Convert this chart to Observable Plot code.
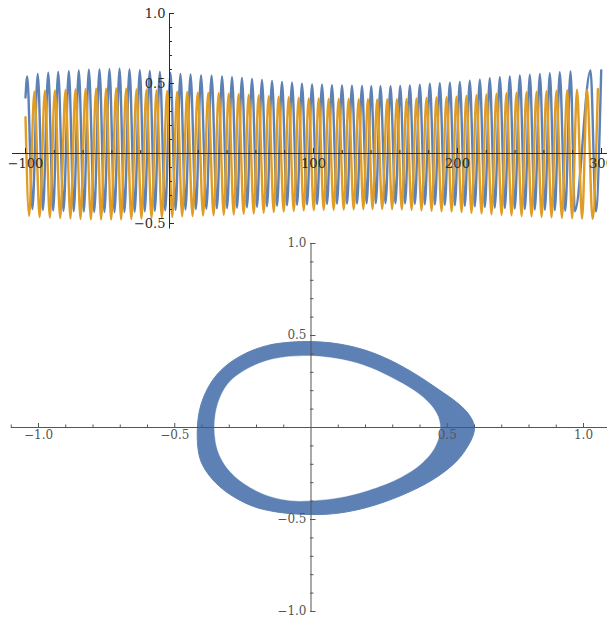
<!DOCTYPE html>
<html>
<head>
<meta charset="utf-8">
<script src="https://cdn.jsdelivr.net/npm/d3@7"></script>
<script src="https://cdn.jsdelivr.net/npm/@observablehq/plot@0.6"></script>
<style>
  html, body { margin: 0; padding: 0; background: #fff; }
  #chart { position: relative; width: 607px; height: 617px; overflow: hidden; }
  #top, #bottom { position: absolute; left: 0; }
  #top { top: 0; }
  #bottom { top: 236px; }
</style>
</head>
<body>
<div id="chart"><div id="top"></div><div id="bottom"></div></div>
<script>
// ---------- Time series: extrema of the two oscillators ----------
const blueEdgeT = [-100];
const blueEdgeV = [0.40];
const bluePeakT = [-98.8, -91.5, -84.2, -77.3, -69.9, -63.0, -56.0, -48.6, -41.7, -34.7,
  -27.8, -20.6, -13.7, -6.7, 0.7, 7.6, 14.6, 21.9, 29.2, 36.5,
  43.4, 50.3, 57.3, 64.2, 71.2, 78.1, 85.1, 92.0, 99.0, 105.9,
  112.8, 119.8, 126.7, 133.7, 140.1, 146.5, 153.5, 160.2, 166.9, 173.8,
  180.8, 187.7, 194.7, 201.6, 208.5, 215.5, 222.4, 229.4, 236.3, 243.3,
  250.2, 257.2, 264.1, 271.0, 278.5, 292.4, 299.8];
const bluePeakV = [0.550, 0.569, 0.578, 0.582, 0.588, 0.593, 0.598, 0.600, 0.602, 0.605,
  0.600, 0.595, 0.590, 0.582, 0.575, 0.569, 0.564, 0.557, 0.555, 0.550,
  0.545, 0.540, 0.533, 0.526, 0.518, 0.511, 0.505, 0.498, 0.493, 0.491,
  0.487, 0.486, 0.485, 0.482, 0.481, 0.480, 0.481, 0.483, 0.486, 0.492,
  0.498, 0.502, 0.506, 0.511, 0.520, 0.528, 0.537, 0.545, 0.550, 0.557,
  0.563, 0.569, 0.574, 0.580, 0.586, 0.593, 0.594];
const blueTroughT = [-95.2, -87.9, -80.8, -73.6, -66.5, -59.5, -52.3, -45.2, -38.2, -31.3,
  -24.2, -17.2, -10.2, -3.0, 4.2, 11.1, 18.3, 25.6, 32.9, 40.0,
  46.9, 53.8, 60.8, 67.7, 74.7, 81.6, 88.6, 95.5, 102.5, 109.4,
  116.3, 123.3, 130.2, 136.9, 143.3, 150.0, 156.9, 163.6, 170.4, 177.3,
  184.3, 191.2, 198.2, 205.1, 212.0, 219.0, 225.9, 232.9, 239.8, 246.8,
  253.7, 260.7, 267.6, 274.8, 281.5, 296.1];
const blueTroughV = [-0.397, -0.404, -0.407, -0.410, -0.412, -0.415, -0.417, -0.418, -0.419, -0.418,
  -0.416, -0.413, -0.410, -0.406, -0.403, -0.400, -0.397, -0.395, -0.392, -0.390,
  -0.387, -0.384, -0.381, -0.377, -0.373, -0.370, -0.366, -0.363, -0.361, -0.360,
  -0.358, -0.358, -0.357, -0.356, -0.355, -0.355, -0.356, -0.357, -0.360, -0.363,
  -0.365, -0.367, -0.370, -0.373, -0.378, -0.382, -0.387, -0.390, -0.393, -0.397,
  -0.400, -0.402, -0.405, -0.409, -0.412, -0.414];

const orangeEdgeT = [-100];
const orangeEdgeV = [0.26];
const orangePeakT = [-93.8, -86.5, -79.6, -72.2, -65.3, -58.3, -50.9, -44.0, -37.0, -30.1,
  -22.9, -16.0, -9.0, -1.6, 5.3, 12.3, 19.6, 26.9, 34.2, 41.1,
  48.0, 55.0, 61.9, 68.9, 75.8, 82.8, 89.7, 96.7, 103.6, 110.5,
  117.5, 124.4, 131.4, 137.8, 144.2, 151.2, 157.9, 164.6, 171.5, 178.5,
  185.4, 192.4, 199.3, 206.2, 213.2, 220.1, 227.1, 234.0, 241.0, 247.9,
  254.9, 261.8, 268.7, 276.2, 283.0, 290.0, 297.5];
const orangePeakV = [0.442, 0.448, 0.450, 0.454, 0.457, 0.460, 0.462, 0.463, 0.465, 0.462,
  0.458, 0.455, 0.450, 0.446, 0.442, 0.439, 0.435, 0.433, 0.430, 0.427,
  0.424, 0.419, 0.415, 0.410, 0.406, 0.402, 0.397, 0.394, 0.393, 0.390,
  0.390, 0.389, 0.387, 0.387, 0.386, 0.387, 0.388, 0.390, 0.394, 0.397,
  0.400, 0.402, 0.406, 0.411, 0.416, 0.422, 0.427, 0.430, 0.435, 0.438,
  0.442, 0.445, 0.449, 0.453, 0.455, 0.457, 0.460];
const orangeTroughT = [-97.5, -90.2, -83.1, -75.9, -68.8, -61.8, -54.6, -47.5, -40.5, -33.6,
  -26.5, -19.5, -12.5, -5.3, 1.9, 8.8, 16.0, 23.3, 30.6, 37.7,
  44.6, 51.5, 58.5, 65.4, 72.4, 79.3, 86.3, 93.2, 100.2, 107.1,
  114.0, 121.0, 127.9, 134.6, 141.0, 147.7, 154.6, 161.3, 168.1, 175.0,
  182.0, 188.9, 195.9, 202.8, 209.7, 216.7, 223.6, 230.6, 237.5, 244.5,
  251.4, 258.4, 265.3, 272.5, 279.6, 286.5, 293.8];
const orangeTroughV = [-0.446, -0.454, -0.458, -0.461, -0.464, -0.468, -0.470, -0.471, -0.472, -0.471,
  -0.468, -0.465, -0.462, -0.457, -0.453, -0.449, -0.446, -0.443, -0.441, -0.438,
  -0.435, -0.431, -0.428, -0.423, -0.418, -0.414, -0.410, -0.406, -0.404, -0.402,
  -0.401, -0.400, -0.399, -0.398, -0.397, -0.397, -0.398, -0.399, -0.402, -0.406,
  -0.409, -0.412, -0.414, -0.418, -0.424, -0.429, -0.434, -0.438, -0.442, -0.446,
  -0.449, -0.453, -0.456, -0.460, -0.462, -0.465, -0.467];

// Axes of the time plot
const topXExtent = [-109, 306];
const topYExtent = [-0.54, 1.0];
const topXTicks = [-100, 100, 200, 300];
const topXMinor = [-80, -60, -40, -20, 20, 40, 60, 80, 120, 140, 160, 180, 220, 240, 260, 280];
const topYTicks = [-0.5, 0.5, 1.0];
const topYMinor = [-0.4, -0.3, -0.2, -0.1, 0.1, 0.2, 0.3, 0.4, 0.6, 0.7, 0.8, 0.9];

// ---------- Phase portrait: band swept by the trajectory ----------
const ringOuterX = [0.600, 0.592, 0.572, 0.532, 0.470, 0.391, 0.293, 0.195, 0.098, 0.004,
  -0.073, -0.159, -0.244, -0.318, -0.366, -0.403, -0.417, -0.409, -0.378, -0.318,
  -0.220, -0.122, 0.004, 0.098, 0.208, 0.330, 0.452, 0.537, 0.578, 0.595];
const ringOuterY = [0.000, 0.040, 0.085, 0.140, 0.205, 0.283, 0.364, 0.422, 0.455, 0.467,
  0.464, 0.446, 0.400, 0.328, 0.246, 0.128, 0.000, -0.161, -0.252, -0.342,
  -0.424, -0.460, -0.473, -0.466, -0.433, -0.370, -0.279, -0.179, -0.095, -0.042];
const ringInnerX = [0.474, 0.466, 0.442, 0.398, 0.293, 0.195, 0.098, 0.004, -0.073, -0.159,
  -0.244, -0.305, -0.342, -0.354, -0.342, -0.305, -0.244, -0.159, -0.073, 0.004,
  0.098, 0.208, 0.330, 0.402, 0.446, 0.467];
const ringInnerY = [0.000, 0.060, 0.118, 0.180, 0.273, 0.337, 0.373, 0.388, 0.386, 0.364,
  0.310, 0.237, 0.128, 0.000, -0.125, -0.225, -0.306, -0.370, -0.397, -0.397,
  -0.382, -0.342, -0.270, -0.200, -0.128, -0.062];

const botXExtent = [-1.1, 1.1];
const botYExtent = [-1.0, 1.0];
const botTicks = [-1.0, -0.5, 0.5, 1.0];
const botMinor = [-1.1, -0.9, -0.8, -0.7, -0.6, -0.4, -0.3, -0.2, -0.1, 0.1, 0.2, 0.3, 0.4, 0.6, 0.7, 0.8, 0.9];

// ---------- helpers ----------
const BLUE = "#5e81b5";
const ORANGE = "#e19c24";

function series(edgeT, edgeV, peakT, peakV, troughT, troughV) {
  const pts = [];
  edgeT.forEach((t, i) => pts.push({t, v: edgeV[i]}));
  peakT.forEach((t, i) => pts.push({t, v: peakV[i]}));
  troughT.forEach((t, i) => pts.push({t, v: troughV[i]}));
  return pts.sort((a, b) => a.t - b.t);
}
const loop = (xs, ys) => xs.map((x, i) => ({x, y: ys[i]}));

const blueSeries = series(blueEdgeT, blueEdgeV, bluePeakT, bluePeakV, blueTroughT, blueTroughV);
const orangeSeries = series(orangeEdgeT, orangeEdgeV, orangePeakT, orangePeakV, orangeTroughT, orangeTroughV);
const fmtInt = d3.format("d");
const fmt1 = d3.format(".1f");

const topChart = Plot.plot({
  width: 607, height: 236,
  marginLeft: 169, marginBottom: 83, marginTop: 0, marginRight: 0,
  x: {domain: [-100, 300], range: [25, 601]},
  y: {domain: [-0.5, 1.0], range: [223, 13]},
  style: {background: "transparent", fontFamily: "'DejaVu Serif', serif", fontSize: "13px", color: "#2a2a2a", overflow: "visible"},
  marks: [
    Plot.line(blueSeries, {x: "t", y: "v", stroke: BLUE, strokeWidth: 2.4, curve: "monotone-x"}),
    Plot.line(orangeSeries, {x: "t", y: "v", stroke: ORANGE, strokeWidth: 2.4, curve: "monotone-x"}),
    Plot.ruleY([0], {x1: topXExtent[0], x2: topXExtent[1], stroke: "#2a2a2a"}),
    Plot.ruleX([0], {y1: topYExtent[0], y2: topYExtent[1], stroke: "#2a2a2a"}),
    Plot.axisX(topXMinor, {anchor: "bottom", tickSize: -3, fill: "none", label: null}),
    Plot.axisX(topXTicks, {anchor: "bottom", tickSize: -5, tickPadding: 10, tickFormat: fmtInt, label: null}),
    Plot.axisY(topYMinor, {anchor: "left", tickSize: -3, fill: "none", label: null}),
    Plot.axisY(topYTicks, {anchor: "left", tickSize: -5, tickPadding: 9, tickFormat: fmt1, label: null})
  ]
});
document.getElementById("top").appendChild(topChart);

const bottomChart = Plot.plot({
  width: 607, height: 381,
  marginLeft: 310, marginBottom: 190, marginTop: 0, marginRight: 0,
  x: {domain: [-1, 1], range: [38, 583]},
  y: {domain: [-1, 1], range: [375, 7]},
  style: {background: "transparent", fontFamily: "'DejaVu Serif', serif", fontSize: "12px", color: "#555", overflow: "visible"},
  marks: [
    Plot.line(loop(ringOuterX, ringOuterY), {x: "x", y: "y", curve: "catmull-rom-closed", fill: BLUE, stroke: BLUE, strokeWidth: 1}),
    Plot.line(loop(ringInnerX, ringInnerY), {x: "x", y: "y", curve: "catmull-rom-closed", fill: "white", stroke: "white", strokeWidth: 0.5}),
    Plot.ruleY([0], {x1: botXExtent[0], x2: botXExtent[1], stroke: "#555"}),
    Plot.ruleX([0], {y1: botYExtent[0], y2: botYExtent[1], stroke: "#555"}),
    Plot.axisX(botMinor, {anchor: "bottom", tickSize: -2.5, fill: "none", label: null, stroke: "#555"}),
    Plot.axisX(botTicks, {anchor: "bottom", tickSize: -4, tickPadding: 7, tickFormat: fmt1, label: null, stroke: "#555"}),
    Plot.axisY(botMinor.filter(d => d >= -1), {anchor: "left", tickSize: -3.5, fill: "none", label: null, stroke: "#555"}),
    Plot.axisY(botTicks, {anchor: "left", tickSize: -5.5, tickPadding: 9.5, tickFormat: fmt1, label: null, stroke: "#555"})
  ]
});
document.getElementById("bottom").appendChild(bottomChart);
</script>
</body>
</html>
